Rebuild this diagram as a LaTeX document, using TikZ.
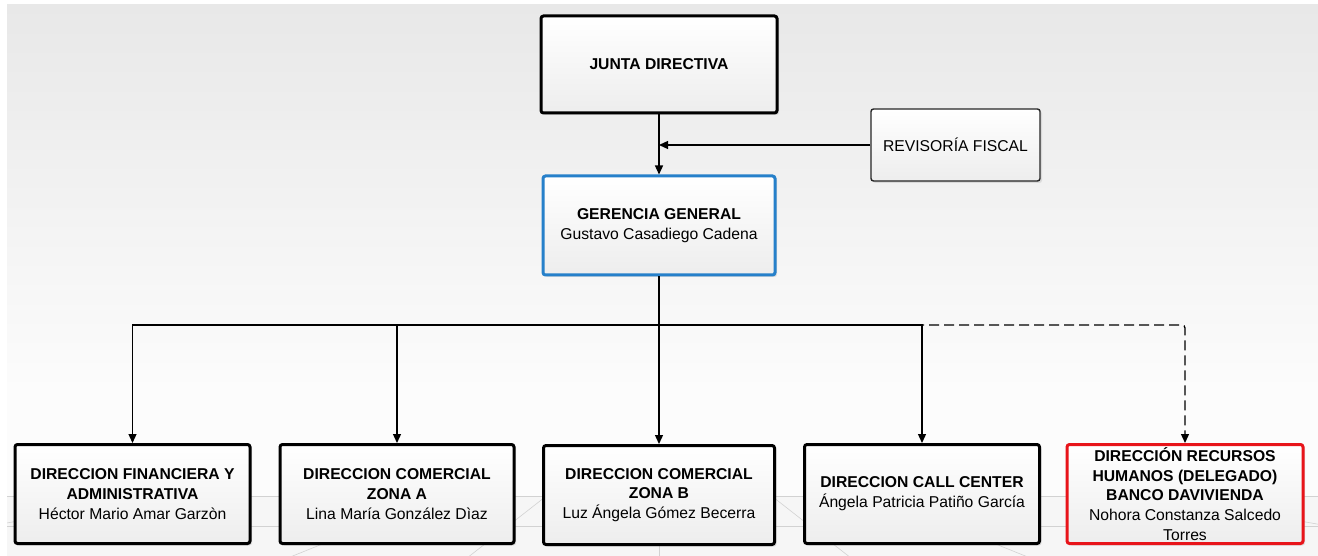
\documentclass[tikz,border=0pt]{standalone}
\usepackage{fontspec}
\setmainfont{Liberation Sans}
\usetikzlibrary{arrows.meta,shadows}

\definecolor{azulgg}{RGB}{38,128,202}
\definecolor{rojorh}{RGB}{232,20,26}

\begin{document}
\begin{tikzpicture}[x=1pt,y=-1pt,
        caja/.style={draw=black, line width=3pt, rounded corners=2.5pt,
            top color=white, bottom color=gray!14, align=center, inner sep=0pt,
            font=\fontsize{15.7}{19.8}\selectfont, minimum width=235pt, minimum height=99pt,
            drop shadow={opacity=0.2, shadow xshift=2pt, shadow yshift=-2pt}},
        cajagg/.style={caja, draw=azulgg},
        cajarh/.style={caja, draw=rojorh},
        cajarf/.style={caja, line width=1.4pt, draw=black!85, minimum width=169pt, minimum height=72pt},
        conn/.style={line width=1.3pt, -{Triangle[width=8pt,length=9pt]}},
        piso/.style={gray!35, line width=0.6pt}]
        \useasboundingbox (0,0) rectangle (1318,556);
        \shade[top color=gray!18, bottom color=gray!2] (7,5) rectangle (1318,400);
        \fill[gray!2] (7,400) rectangle (1318,556);
        \fill[gray!7] (7,496) rectangle (1318,556);
        \begin{scope}
            \clip (7,496) rectangle (1318,556);
            \foreach \ang in {10,22,38,90,142,158,170}
                \draw[piso] (659,408) -- ++(\ang:900);
            \draw[piso] (7,496) -- (1318,496);
            \draw[piso] (7,526) -- (1318,526);
        \end{scope}

        \node[caja, minimum width=236pt, minimum height=97pt] (junta) at (659,64.5) {\textbf{JUNTA DIRECTIVA}};
        \node[cajarf] (revisoria) at (955.5,145) {REVISORÍA FISCAL};
        \node[cajagg, minimum width=232pt] (gerencia) at (659,225.5) {\textbf{GERENCIA GENERAL}\\Gustavo Casadiego Cadena};

        \node[caja] (financiera) at (132.5,494) {\textbf{DIRECCION FINANCIERA Y}\\\textbf{ADMINISTRATIVA}\\Héctor Mario Amar Garzòn};
        \node[caja, minimum width=234pt] (zonaA) at (397,494) {\textbf{DIRECCION COMERCIAL}\\\textbf{ZONA A}\\Lina María González Dìaz};
        \node[caja, minimum width=231pt] (zonaB) at (659,495) {\textbf{DIRECCION COMERCIAL}\\\textbf{ZONA B}\\Luz Ángela Gómez Becerra};
        \node[caja] (callcenter) at (922,494) {\textbf{DIRECCION CALL CENTER}\\Ángela Patricia Patiño García};
        \node[cajarh, minimum width=236pt] (rrhh) at (1185,494) {\textbf{DIRECCIÓN RECURSOS}\\\textbf{HUMANOS (DELEGADO)}\\\textbf{BANCO DAVIVIENDA}\\Nohora Constanza Salcedo\\Torres};

        \coordinate (bus) at (659,325);
        \draw[conn] (junta.south) -- (gerencia.north);
        \draw[conn] (revisoria.west) -- (revisoria.west -| junta.south);
        \draw[conn, dash pattern=on 10pt off 5pt, rounded corners=3pt] (bus) -| (rrhh.north);
        \draw[line width=1.3pt] (gerencia.south) -- (bus);
        \draw[conn] (bus) -| (financiera.north);
        \draw[conn] (bus) -| (zonaA.north);
        \draw[conn] (bus) -- (zonaB.north);
        \draw[conn] (bus) -| (callcenter.north);
\end{tikzpicture}
\end{document}
